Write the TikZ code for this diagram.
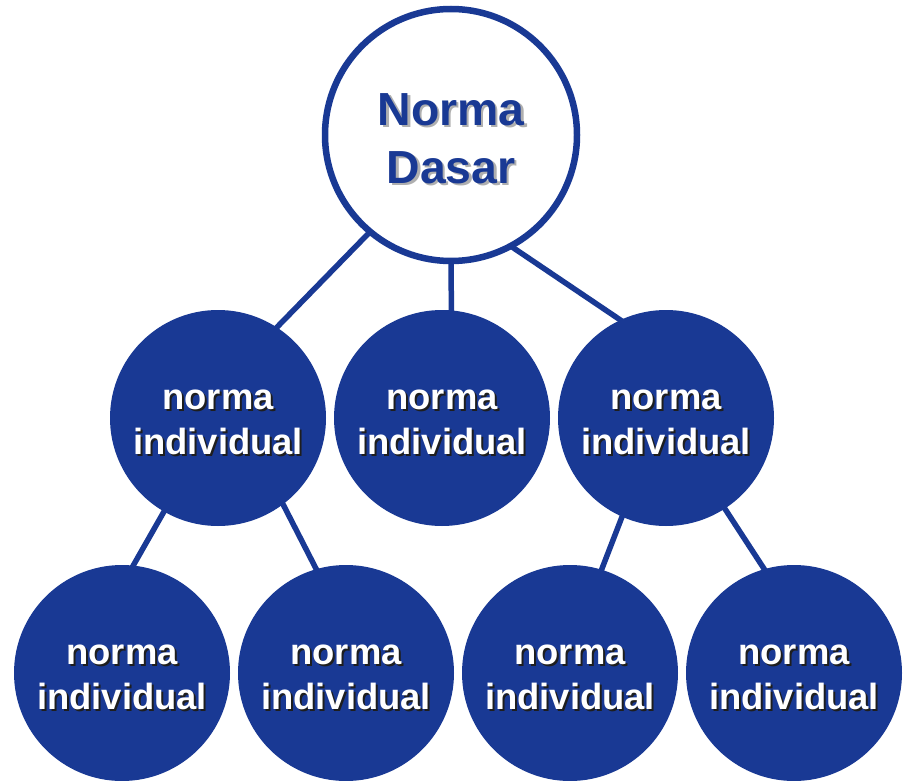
\documentclass[tikz,border=0pt]{standalone}
\usepackage{fontspec}
\setmainfont{Liberation Sans}
\usetikzlibrary{backgrounds}
\definecolor{nblue}{RGB}{25,57,148}
\definecolor{shgray}{RGB}{175,175,175}
\definecolor{shdark}{RGB}{30,30,30}
\newcommand{\shd}[3]{\rlap{\hspace{#1}\raisebox{-#1}{\color{#2}#3}}#3}
\tikzset{
  bluecirc/.style={circle,fill=nblue,minimum size=216pt,inner sep=0pt},
  topcirc/.style={circle,draw=nblue,fill=white,line width=6.5pt,minimum size=252pt,inner sep=0pt},
  link/.style={draw=nblue,line width=5.5pt,shorten <=-3pt,shorten >=-3pt},
  wtext/.style={text=white,align=center,font=\fontsize{36.4}{45}\selectfont\bfseries,inner sep=0pt},
  btext/.style={text=nblue,align=center,font=\fontsize{46.4}{58}\selectfont\bfseries,inner sep=0pt},
}
\begin{document}
\begin{tikzpicture}[x=1pt,y=-1pt]
\useasboundingbox (0,0) rectangle (903,781);
\node[topcirc] (top) at (451,135) {};
\node[bluecirc] (L) at (218,418) {};
\node[bluecirc] (M) at (442,418) {};
\node[bluecirc] (R) at (666,418) {};
\node[bluecirc] (BL1) at (122,673) {};
\node[bluecirc] (BL2) at (346,673) {};
\node[bluecirc] (BR1) at (570,673) {};
\node[bluecirc] (BR2) at (794,673) {};
\begin{scope}[on background layer]
\fill[white] (0,0) rectangle (903,781);
\draw[link] (top.230.8) -- (L.57.7);
\draw[link] (top.270) -- (M.85.3);
\draw[link] (top.299.4) -- (R.115.6);
\draw[link] (L.240.6) -- (BL1.84.6);
\draw[link] (L.307) -- (BL2.106.8);
\draw[link] (R.246.5) -- (BR1.73.8);
\draw[link] (R.303.3) -- (BR2.106.5);
\end{scope}
\node[btext] (topT) at ([yshift=-5pt]top.center) {\shd{2.5pt}{shgray}{Norma}\\\shd{2.5pt}{shgray}{Dasar}};
\foreach \n in {L,M,R,BL1,BL2,BR1,BR2}{
  \node[wtext] (\n T) at ([yshift=-5pt]\n.center) {\shd{2pt}{shdark}{norma}\\\shd{2pt}{shdark}{individual}};
}
\end{tikzpicture}
\end{document}
